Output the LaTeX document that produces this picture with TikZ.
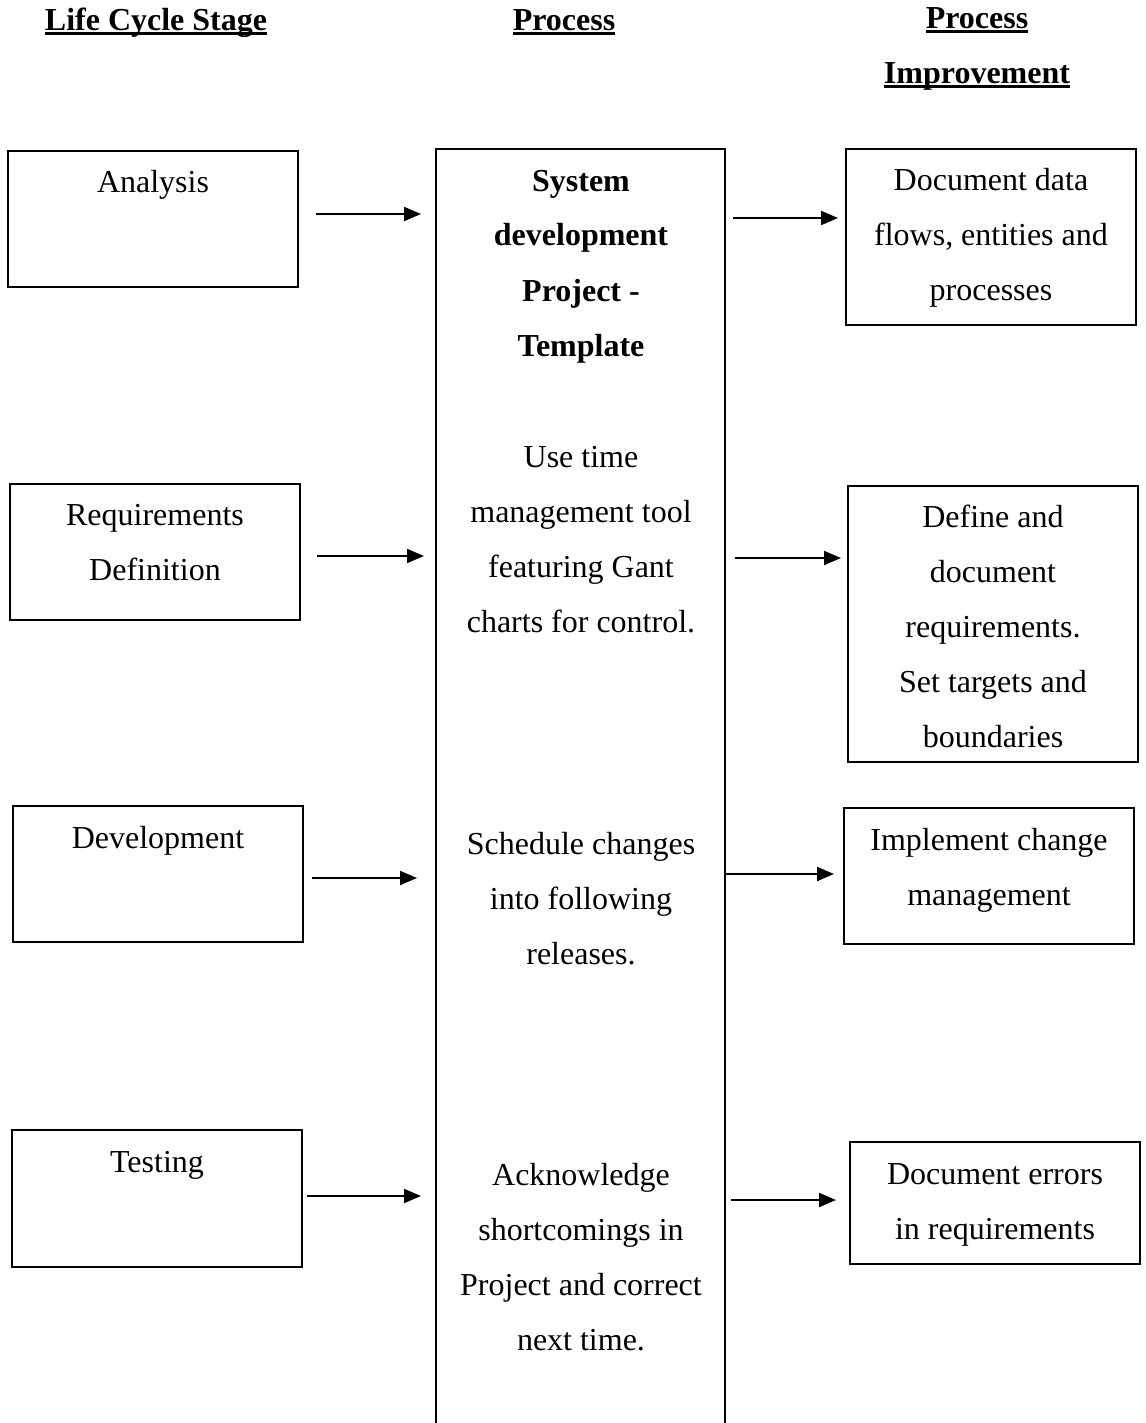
\documentclass[tikz,border=0pt]{standalone}
\usepackage{fontspec}
\setmainfont{Liberation Serif}
\usetikzlibrary{arrows.meta}
\newcommand\myul[1]{\setbox0\hbox{#1}\rlap{\rule[-1.9pt]{\wd0}{1.2pt}}\box0}
\begin{document}
\begin{tikzpicture}[x=0.5pt,y=-0.5pt,
  box/.style={draw,line width=1pt,minimum width=145pt,inner sep=0pt},
  txt/.style={anchor=base,align=center,inner sep=0pt,font=\fontsize{16}{27.5}\selectfont},
  hdr/.style={anchor=base,align=center,inner sep=0pt,font=\fontsize{16}{27.5}\selectfont\bfseries},
  arr/.style={line width=1pt,-{Triangle[length=8.5pt,width=7pt]}}]
\useasboundingbox (0,0) rectangle (1145,1423);
% headers (multi-line nodes are placed by the baseline of their last line)
\node[hdr] (h1) at (156,31) {\myul{Life Cycle Stage}};
\node[hdr] (h2) at (564,31) {\myul{Process}};
\node[hdr] (h3) at (977,84) {\myul{Process}\\\myul{Improvement}};
% left column
\node[box,minimum height=68pt] (an) at (153,219) {};
\node[box,minimum height=68pt] (rq) at (155,552) {};
\node[box,minimum height=68pt] (dv) at (158,874) {};
\node[box,minimum height=68.5pt] (ts) at (157,1198.5) {};
\node[txt] (tan) at (153,193) {Analysis};
\node[txt] (trq) at (155,580) {Requirements\\Definition};
\node[txt] (tdv) at (158,848) {Development};
\node[txt] (tts) at (157,1172) {Testing};
% centre column
\node[minimum width=144.5pt,minimum height=637pt,inner sep=0pt] (proc) at (580.5,786) {};
\draw[line width=1pt] (proc.south west) -- (proc.north west) -- (proc.north east) -- (proc.south east);
\node[txt,font=\fontsize{16}{27.5}\selectfont\bfseries] (p1) at (581,356) {System\\development\\Project -\\Template};
\node[txt] (p2) at (581,632) {Use time\\management tool\\featuring Gant\\charts for control.};
\node[txt] (p3) at (581,964) {Schedule changes\\into following\\releases.};
\node[txt] (p4) at (581,1350) {Acknowledge\\shortcomings in\\Project and correct\\next time.};
% right column
\node[box,minimum height=88pt] (i1) at (991,237) {};
\node[box,minimum height=138pt] (i2) at (993,624) {};
\node[box,minimum height=68pt] (i3) at (989,876) {};
\node[box,minimum height=61pt] (i4) at (995,1203) {};
\node[txt] (ti1) at (991,300) {Document data\\flows, entities and\\processes};
\node[txt] (ti2) at (993,747) {Define and\\document\\requirements.\\Set targets and\\boundaries};
\node[txt] (ti3) at (989,905) {Implement change\\management};
\node[txt] (ti4) at (995,1239) {Document errors\\in requirements};
% arrows
\coordinate (l1s) at (316,214); \coordinate (l1e) at (421,214);
\coordinate (l2s) at (317,556); \coordinate (l2e) at (424,556);
\coordinate (l3s) at (312,878); \coordinate (l3e) at (417,878);
\coordinate (l4s) at (307,1196); \coordinate (l4e) at (421,1196);
\coordinate (r1s) at (733,218); \coordinate (r1e) at (838,218);
\coordinate (r2s) at (735,558); \coordinate (r2e) at (841,558);
\coordinate (r3s) at (725,874); \coordinate (r3e) at (834,874);
\coordinate (r4s) at (731,1200); \coordinate (r4e) at (836,1200);
\draw[arr] (l1s) -- (l1e);
\draw[arr] (l2s) -- (l2e);
\draw[arr] (l3s) -- (l3e);
\draw[arr] (l4s) -- (l4e);
\draw[arr] (r1s) -- (r1e);
\draw[arr] (r2s) -- (r2e);
\draw[arr] (r3s) -- (r3e);
\draw[arr] (r4s) -- (r4e);
\end{tikzpicture}
\end{document}
